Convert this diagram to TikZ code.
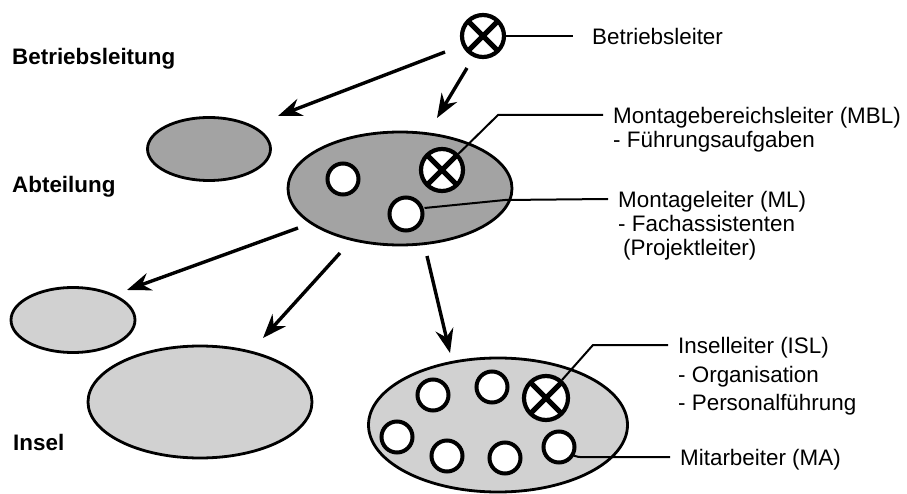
\documentclass[tikz,border=0pt]{standalone}
\usepackage{fontspec}
\setmainfont{Liberation Sans}
\usetikzlibrary{arrows.meta,shapes.geometric}
\definecolor{fillA}{gray}{0.64}
\definecolor{fillB}{gray}{0.82}
\tikzset{
  unitA/.style={ellipse, draw, line width=2.8pt, fill=fillA, inner sep=0pt},
  unitB/.style={ellipse, draw, line width=2.8pt, fill=fillB, inner sep=0pt},
  person/.style={circle, draw, line width=4pt, fill=white, minimum size=31pt, inner sep=0pt},
  leader/.style={circle, draw, line width=4.2pt, fill=white, minimum size=42pt, inner sep=0pt,
    path picture={\draw[line width=5pt]
      (path picture bounding box.north west) -- (path picture bounding box.south east)
      (path picture bounding box.north east) -- (path picture bounding box.south west);}},
  conn/.style={draw, line width=2pt},
  arr/.style={draw, line width=3.4pt, -{Stealth[length=24pt, width=18pt, inset=8pt]}},
  txt/.style={anchor=base west, inner sep=0pt, font=\fontsize{22.4}{24}\selectfont},
  lvl/.style={anchor=base west, inner sep=0pt, font=\fontsize{22.4}{24}\selectfont\bfseries}
}
\begin{document}
\begin{tikzpicture}[x=1pt,y=-1pt]
\useasboundingbox (0,0) rectangle (907,494);

% level labels
\node[lvl] (lBL) at (12,65) {Betriebsleitung};
\node[lvl] (lAB) at (12,193) {Abteilung};
\node[lvl] (lIN) at (13,450) {Insel};

% Betriebsleiter
\node[leader] (bl) at (483,36) {};
\coordinate (ble) at (573,36);
\draw[conn] (bl) -- (ble);
\node[txt] (tbl) at (592,45) {Betriebsleiter};

% Abteilungen
\node[unitA, minimum width=123pt, minimum height=63pt] (abt1) at (209,149) {};
\node[unitA, minimum width=224pt, minimum height=113pt] (abt2) at (400,188.5) {};
\node[person] (ab2p1) at (343,179) {};
\node[leader] (mbl) at (442,170) {};
\node[person, minimum size=33pt] (ml) at (406,214) {};

\coordinate (mblk) at (498,115);
\coordinate (mble) at (603,115);
\draw[conn] (mbl) -- (mblk) -- (mble);
\node[txt] (tmbl1) at (613,124) {Montagebereichsleiter (MBL)};
\node[txt] (tmbl2) at (613,148) {- Führungsaufgaben};

\coordinate (mlk) at (505,200);
\coordinate (mle) at (608,199);
\draw[conn] (ml.east) ++(0,-6) coordinate (mls) -- (mlk) -- (mle);
\node[txt] (tml1) at (618,208) {Montageleiter (ML)};
\node[txt] (tml2) at (618,232) {- Fachassistenten};
\node[txt] (tml3) at (623,256) {(Projektleiter)};

% Inseln
\node[unitB, minimum width=124pt, minimum height=65pt] (ins1) at (73,320) {};
\node[unitB, minimum width=224pt, minimum height=112pt] (ins2) at (200,402) {};
\node[unitB, minimum width=259pt, minimum height=134pt] (ins3) at (498,425) {};
\node[person] (p1) at (433,395) {};
\node[person] (p2) at (492,387) {};
\node[leader, minimum size=44pt] (isl) at (546,398) {};
\node[person] (p4) at (397,437) {};
\node[person] (p5) at (447,456) {};
\node[person] (p6) at (505,458) {};
\node[person] (p7) at (559,447) {};

\coordinate (islk) at (593,345);
\coordinate (isle) at (668,345);
\draw[conn] (isl) -- (islk) -- (isle);
\node[txt] (tisl1) at (678,353) {Inselleiter (ISL)};
\node[txt] (tisl2) at (678,382) {- Organisation};
\node[txt] (tisl3) at (678,410) {- Personalführung};

\coordinate (mak) at (590,457);
\coordinate (mae) at (670,457);
\draw[conn] (p7.-30) to[out=-20,in=180] (mak) -- (mae);
\node[txt] (tma) at (680,465) {Mitarbeiter (MA)};

% arrows
\coordinate (a1s) at (445,52);  \coordinate (a1e) at (278,116);
\coordinate (a2s) at (467,68);  \coordinate (a2e) at (437,118);
\coordinate (a3s) at (298,228); \coordinate (a3e) at (127,290);
\coordinate (a4s) at (340,253); \coordinate (a4e) at (263,338);
\coordinate (a5s) at (427,256); \coordinate (a5e) at (450,353);
\draw[arr] (a1s) -- (a1e);
\draw[arr] (a2s) -- (a2e);
\draw[arr] (a3s) -- (a3e);
\draw[arr] (a4s) -- (a4e);
\draw[arr] (a5s) -- (a5e);
\end{tikzpicture}
\end{document}
